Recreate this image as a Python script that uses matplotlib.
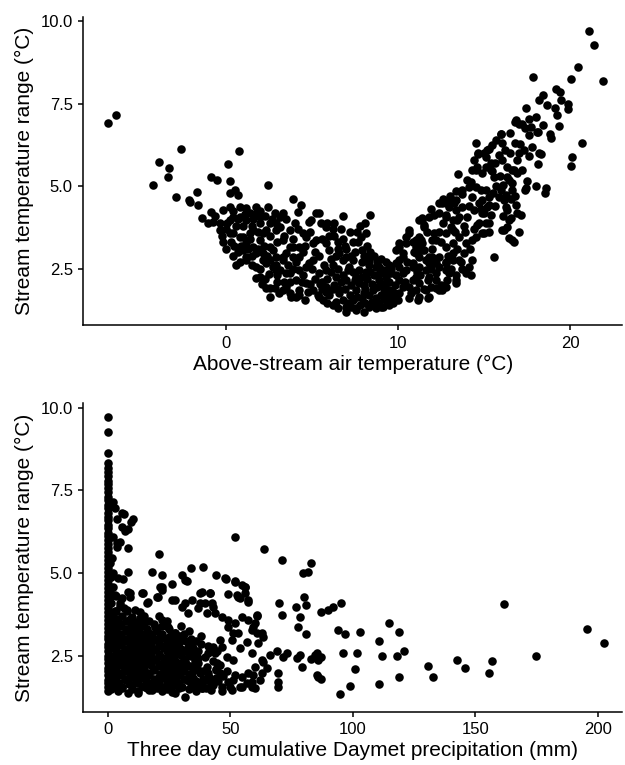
import matplotlib.pyplot as plt

plt.rcParams['font.family'] = ['Liberation Sans', 'DejaVu Sans']

## Top panel: (air temperature, stream temperature range)
air_outer = [(-6.85, 6.91), (-6.37, 7.15), (-2.6, 6.14), (-3.84, 5.73), (-3.28, 5.57),
             (-3.32, 5.29), (-4.23, 5.04), (-2.9, 4.68), (-2.14, 4.58), (-1.64, 4.82),
             (-0.83, 5.27), (-0.52, 5.19), (0.12, 5.68), (0.23, 5.16), (0.77, 6.08),
             (0.27, 4.80), (0.54, 4.90), (0.73, 4.75), (2.47, 5.04), (3.9, 4.6),
             (4.38, 4.43), (4.19, 4.23), (2.84, 4.18), (-2.08, 4.53), (-1.6, 4.43)]

air_cold = [(-1.4, 4.03), (-0.83, 4.23), (-0.74, 3.92), (-1.05, 3.88), (-0.35, 3.67),
            (-0.16, 4.28), (0.23, 4.38), (0.81, 4.38), (1.2, 4.33), (1.78, 4.38),
            (2.45, 4.38), (3.13, 4.08), (5.25, 4.18), (4.96, 3.98), (5.83, 3.77),
            (-0.35, 3.88), (0.42, 4.08), (1.2, 3.98), (1.97, 3.88), (2.36, 3.67),
            (3.13, 3.77), (3.71, 3.67), (4.48, 3.57), (5.25, 3.37), (5.83, 3.27),
            (-0.16, 3.32), (0.23, 3.57), (0.81, 3.47), (1.2, 3.27), (1.39, 3.57),
            (1.97, 3.37), (2.55, 3.17), (1.78, 2.97), (1.2, 2.86), (0.81, 2.71),
            (0.62, 2.61), (2.16, 2.76), (2.94, 2.86), (2.74, 2.56), (3.32, 2.76),
            (3.51, 2.97), (3.9, 3.17), (4.28, 2.86), (4.67, 2.56), (5.05, 2.76),
            (5.44, 2.36), (5.83, 2.46), (3.13, 2.46), (3.51, 2.36), (3.71, 2.11),
            (4.09, 2.16), (4.28, 1.85), (4.67, 2.06), (5.05, 1.85), (5.44, 1.65),
            (4.09, 1.65), (3.71, 1.75), (3.32, 1.85), (2.55, 1.91), (1.97, 2.26),
            (1.78, 2.21), (2.55, 1.65), (1.2, 2.76), (2.36, 1.91), (2.84, 1.91),
            (3.8, 1.65), (4.28, 1.70), (4.77, 1.80), (5.34, 1.70), (4.86, 3.92),
            (5.44, 4.18), (0.23, 3.98), (0.81, 4.08), (1.39, 4.18), (1.97, 4.08),
            (0.42, 3.57), (1.0, 3.47), (1.58, 3.67), (2.16, 3.57), (2.55, 3.88),
            (2.94, 3.67), (3.32, 3.37), (3.71, 3.17), (1.58, 3.17), (1.0, 3.07),
            (2.16, 2.97), (2.74, 3.07), (3.32, 2.86), (3.9, 2.86), (4.28, 3.17),
            (4.67, 3.47), (5.05, 3.27), (4.86, 2.66), (4.28, 2.46), (3.71, 2.36),
            (2.94, 2.46), (2.36, 2.66), (1.78, 2.56), (0.5, 3.2), (0.1, 3.9),
            (4.0, 3.9), (4.5, 3.0), (5.4, 2.9), (2.3, 2.2), (3.0, 2.1),
            (-0.6, 4.1), (-0.2, 3.5), (0.0, 3.1), (0.3, 3.3), (0.6, 3.8),
            (0.9, 3.2), (1.0, 3.8), (1.4, 3.4), (1.6, 4.0), (1.9, 3.6),
            (2.2, 3.2), (2.0, 4.25), (2.6, 3.5), (2.7, 4.0), (3.0, 3.3),
            (3.4, 3.5), (3.5, 4.0), (3.9, 3.4), (4.2, 3.7), (4.6, 3.2),
            (4.9, 3.6), (5.2, 3.0), (5.6, 3.4), (5.0, 2.5), (5.6, 2.1),
            (4.5, 2.3), (3.9, 2.5), (3.4, 2.1), (3.0, 2.3), (2.5, 2.35),
            (4.9, 2.05), (4.6, 1.55), (3.5, 1.95), (2.0, 2.5), (1.5, 2.9),
            (0.0, 3.7), (0.4, 4.25), (0.7, 4.0), (1.1, 4.15), (1.5, 3.8),
            (1.8, 4.2), (2.3, 4.1), (2.9, 3.9), (3.3, 4.2), (0.4, 2.9),
            (0.7, 3.0), (1.3, 3.1), (1.9, 3.1), (2.4, 2.9), (1.5, 2.6),
            (2.6, 2.75), (3.6, 2.6), (4.1, 2.7), (4.4, 2.1), (5.2, 2.2),
            (5.6, 1.9), (3.1, 1.75), (2.1, 2.05), (2.9, 2.6)]

air_mid = [(6.83, 4.1), (8.4, 4.13), (6.31, 3.88), (6.21, 3.72), (5.54, 3.88),
           (7.86, 3.47), (8.15, 3.57), (7.89, 3.07), (8.24, 2.81), (8.34, 2.61),
           (8.15, 2.41), (8.92, 2.56), (9.11, 2.46), (9.3, 2.26), (9.5, 2.11),
           (8.92, 2.16), (9.59, 2.36), (7.57, 1.25), (8.34, 1.35), (9.01, 1.35),
           (9.5, 1.4), (9.98, 1.55), (6.5, 3.32), (6.02, 3.07), (6.6, 2.97),
           (6.79, 2.76), (6.99, 2.86), (7.18, 2.56), (7.37, 2.41), (7.57, 2.26),
           (7.76, 2.46), (8.34, 2.76), (8.73, 2.56), (9.3, 2.06), (9.5, 1.85),
           (9.59, 1.55), (9.11, 1.35), (7.57, 1.3), (6.99, 1.35), (6.21, 1.4),
           (5.63, 1.55), (6.6, 1.75), (7.57, 1.85), (8.53, 1.85), (7.76, 2.06),
           (6.41, 2.26), (6.99, 2.16), (5.83, 1.95), (6.0, 1.7), (6.3, 2.0),
           (6.8, 1.55), (7.2, 1.7), (7.3, 2.0), (7.9, 1.6), (8.1, 1.9),
           (8.2, 2.2), (8.7, 1.6), (8.8, 1.95), (8.6, 2.3), (9.0, 1.7),
           (9.2, 1.9), (9.7, 1.8), (9.8, 2.0), (9.6, 2.5), (9.9, 2.3),
           (6.2, 2.6), (6.5, 2.5), (7.4, 2.75), (7.9, 2.7), (8.6, 2.9),
           (9.0, 2.8), (7.0, 3.1), (7.5, 3.0), (6.4, 1.5), (7.0, 1.2),
           (8.0, 1.2), (5.9, 2.2), (5.5, 2.05), (6.1, 2.8), (6.8, 3.4),
           (7.2, 3.6), (7.8, 3.8), (7.4, 3.3), (8.2, 3.2), (6.0, 3.5),
           (5.8, 1.8), (6.1, 2.4), (6.5, 1.9), (6.8, 2.3), (7.1, 1.45),
           (7.4, 1.55), (7.5, 2.15), (7.8, 1.4), (8.0, 2.0), (8.3, 1.7),
           (8.5, 1.5), (8.5, 2.05), (8.9, 1.45), (9.2, 1.6), (9.4, 1.7),
           (9.7, 1.45), (9.3, 2.4), (6.4, 2.9), (6.9, 3.2), (7.3, 2.9),
           (7.7, 3.3), (8.0, 2.9), (8.4, 3.0), (8.8, 2.7), (9.3, 2.7),
           (6.3, 3.5), (6.7, 3.7), (7.6, 3.6), (8.1, 3.9), (5.9, 3.9),
           (5.9, 1.45), (6.5, 1.3), (7.3, 1.35), (8.1, 1.45), (8.7, 1.3),
           (9.3, 1.55), (9.85, 1.7), (6.2, 1.9), (6.9, 1.9), (7.6, 1.65),
           (8.0, 1.75), (8.4, 2.4), (8.9, 2.35), (9.5, 2.6), (7.1, 2.45),
           (6.7, 2.1), (7.9, 2.25), (9.1, 2.05), (5.7, 2.6), (6.5, 3.1)]

air_warm = [(21.1, 9.72), (21.35, 9.3), (20.46, 8.62), (20.05, 8.26), (21.9, 8.18),
            (17.85, 8.31), (19.18, 7.94), (19.4, 7.85), (18.43, 7.78), (18.16, 7.62),
            (19.45, 7.62), (18.67, 7.46), (19.1, 7.39), (19.86, 7.51), (19.84, 7.33),
            (19.24, 7.15), (17.41, 7.39), (16.79, 6.95), (17.02, 6.89), (17.6, 7.04),
            (17.37, 6.78), (18.41, 6.85), (19.32, 6.83), (18.1, 6.64), (18.83, 6.58),
            (18.88, 6.46), (15.98, 6.58), (16.5, 6.62), (17.6, 6.55), (17.06, 6.28),
            (16.02, 6.32), (14.52, 6.30), (15.48, 6.25), (15.29, 6.13), (20.67, 6.30),
            (14.65, 5.98), (15.87, 5.94), (16.06, 5.79), (17.6, 5.92), (18.27, 5.98),
            (18.14, 5.69), (20.07, 5.89), (20.02, 5.61), (15.13, 5.88), (15.1, 5.59),
            (14.52, 5.49), (13.47, 5.38), (15.48, 5.47), (16.64, 5.49), (16.93, 5.41),
            (14.23, 5.14), (14.52, 4.98), (16.1, 5.04), (16.44, 5.19), (17.47, 5.16),
            (17.99, 5.01), (18.57, 4.94), (18.53, 4.80), (17.37, 4.88), (13.36, 4.86),
            (13.74, 4.78), (14.8, 4.88), (15.87, 4.68), (12.62, 4.6), (14.63, 6.0),
            (15.19, 6.1), (15.96, 6.6), (16.83, 7.0), (17.2, 6.9), (18.08, 6.65),
            (18.18, 6.0), (14.32, 5.49), (14.61, 5.59), (14.9, 5.39), (15.38, 5.49),
            (15.58, 5.29), (16.35, 5.29), (16.73, 5.49), (17.41, 4.94), (14.12, 4.98),
            (14.32, 4.68), (15.29, 4.68), (14.9, 4.58), (16.16, 4.58), (16.25, 4.38),
            (16.83, 4.43), (12.58, 4.48), (12.97, 4.38), (12.39, 4.18), (12.1, 4.13),
            (12.78, 4.13), (13.36, 4.28), (13.55, 4.08), (13.17, 3.98), (14.03, 4.08),
            (14.42, 4.28), (14.9, 4.18), (15.19, 4.38), (15.38, 4.13), (14.61, 3.82),
            (15.1, 3.88), (15.29, 3.88), (16.35, 3.77), (16.54, 4.03), (17.02, 3.62),
            (17.12, 4.13), (16.16, 3.67), (16.44, 3.42), (16.73, 3.32), (11.42, 3.98),
            (11.52, 3.77), (12.1, 3.57), (12.39, 3.62), (12.2, 3.37), (12.78, 3.57),
            (13.07, 3.77), (13.17, 3.27), (13.55, 3.47), (13.94, 3.27), (13.84, 2.97),
            (14.32, 3.37), (14.52, 3.47), (15.0, 3.57), (15.58, 2.86), (14.32, 2.76),
            (13.65, 2.71), (14.12, 2.56), (12.0, 2.86), (11.81, 2.66), (12.39, 2.56),
            (12.78, 2.71), (12.97, 2.36), (12.2, 2.36), (11.62, 2.46), (14.23, 2.31),
            (11.33, 3.37), (11.42, 3.07), (10.08, 1.75), (10.27, 1.95), (10.08, 2.16),
            (10.27, 2.36), (10.65, 1.6), (11.14, 1.55), (11.72, 1.6), (11.04, 1.85),
            (11.62, 1.85), (10.65, 1.95), (10.85, 2.16), (11.23, 2.06), (11.91, 1.95),
            (12.2, 1.91), (12.58, 1.85), (11.04, 2.26), (11.72, 2.16), (12.2, 2.16),
            (12.87, 2.16), (13.36, 2.06), (10.08, 2.56), (10.08, 2.76), (10.27, 2.97),
            (10.08, 3.17), (10.46, 3.27), (10.65, 3.57), (10.85, 2.66), (11.23, 2.56),
            (11.62, 2.76), (11.04, 2.97), (11.52, 3.07), (11.81, 2.86), (10.85, 3.32),
            (11.04, 3.17), (11.42, 3.27), (11.23, 3.47), (12.2, 2.66), (12.39, 2.86),
            (12.78, 2.66), (13.17, 2.76), (12.78, 2.46), (13.36, 2.31), (11.42, 4.03),
            (11.52, 3.82), (12.97, 4.58), (13.26, 4.48), (12.78, 4.08), (13.45, 3.98),
            (14.9, 3.57), (14.71, 3.88), (15.0, 4.18), (15.29, 4.43), (16.25, 4.73),
            (16.54, 4.63), (16.64, 4.88), (16.35, 4.28), (16.93, 4.18), (16.64, 3.37),
            (16.06, 3.67), (16.44, 3.98), (9.88, 3.07), (10.08, 3.27), (10.46, 3.47),
            (10.65, 3.67), (11.04, 3.37), (10.27, 2.86), (9.88, 2.66), (10.85, 2.56),
            (11.23, 2.86), (11.23, 3.98), (11.81, 4.08), (12.39, 4.48), (12.78, 4.48),
            (13.36, 4.58), (13.74, 4.38), (13.17, 3.67), (12.0, 3.37), (12.78, 3.17),
            (13.17, 2.97), (13.55, 2.76), (11.81, 2.26), (10.46, 2.46), (10.75, 1.75),
            (11.23, 1.65), (11.81, 1.65), (12.39, 1.85), (12.78, 1.95), (13.36, 2.16),
            (13.94, 2.36), (10.4, 2.1), (10.5, 2.7), (10.9, 3.0), (11.3, 2.3),
            (11.5, 1.9), (11.9, 2.5), (12.0, 3.1), (12.5, 2.0), (12.5, 3.3),
            (12.9, 2.9), (13.1, 2.5), (13.4, 3.1), (13.7, 2.5), (13.3, 3.6),
            (13.9, 3.6), (14.2, 3.1), (14.4, 3.7), (14.7, 4.5), (15.1, 4.9),
            (15.6, 4.4), (15.7, 5.0), (15.9, 5.3), (16.3, 5.6), (16.6, 5.1),
            (16.9, 5.8), (17.2, 5.5), (17.8, 6.2), (17.0, 6.0), (16.5, 6.0),
            (15.6, 5.7), (16.0, 4.9), (16.8, 4.7), (13.0, 4.7), (13.7, 4.9),
            (14.0, 5.2), (14.4, 5.8), (15.0, 6.0), (15.4, 5.7), (15.7, 6.4),
            (16.2, 6.1), (16.8, 6.3), (17.3, 6.1), (17.7, 6.8), (18.0, 7.1),
            (14.1, 4.4), (14.8, 4.3), (15.5, 4.8), (16.1, 4.1), (13.8, 3.8),
            (15.3, 3.6), (11.1, 2.4), (11.7, 3.6), (12.6, 3.9), (11.9, 4.3)]

## Bottom panel: (three day precipitation, stream temperature range)
zero_precip_range = [9.72, 9.27, 8.62, 8.32, 8.18, 8.05, 7.93, 7.8, 7.69, 7.56,
                     7.44, 7.31, 7.2, 7.07, 6.96, 6.83, 6.71, 6.6, 6.47, 6.36,
                     6.23, 6.12, 5.99, 5.88, 5.75, 5.64, 5.52, 5.39, 5.28, 5.16,
                     5.03, 4.92, 4.8, 4.67, 4.56, 4.44, 4.31, 4.2, 4.08, 3.95,
                     3.84, 3.72, 3.59, 3.48, 3.36, 3.23, 3.12, 3.0, 2.87, 2.76,
                     2.64, 2.51, 2.4, 2.28, 2.15, 2.04, 1.92, 1.79, 1.68, 1.56, 1.45]

precip_core = [(1.0, 5.3), (1.2, 4.9), (0.8, 4.5), (1.5, 4.1), (1.1, 3.7), (0.9, 3.3),
               (1.3, 2.9), (0.8, 2.5), (1.2, 2.1), (0.9, 1.7), (1.4, 1.5), (2.3, 4.6),
               (3.5, 4.3), (3.0, 3.85), (5.0, 4.0), (2.0, 5.0), (1.8, 5.45),
               (1.5, 1.6), (1.6, 2.0), (1.5, 2.4), (1.6, 2.8), (1.5, 3.2), (1.6, 3.6), (1.5, 4.3),
               (4.0, 1.45), (8.4, 1.37), (12.5, 1.45), (17.0, 1.47), (22.0, 1.43), (27.5, 1.37),
               (31.6, 1.27), (36.0, 1.45), (42.0, 1.48), (46.5, 1.45),
               (2.5, 1.6), (6.0, 1.58), (10.0, 1.62), (14.0, 1.6), (18.0, 1.62), (22.0, 1.57),
               (26.1, 1.6), (30.2, 1.57), (34.3, 1.6), (38.4, 1.55), (43.0, 1.62),
               (3.5, 1.75), (7.5, 1.77), (11.5, 1.74), (15.5, 1.76), (19.5, 1.75), (24.0, 1.72),
               (28.0, 1.76), (32.2, 1.77), (36.0, 1.74), (40.0, 1.78), (45.0, 1.75), (49.0, 1.73),
               (2.0, 1.9), (5.5, 1.92), (9.0, 1.88), (13.0, 1.9), (17.0, 1.92), (21.0, 1.88),
               (25.0, 1.9), (29.0, 1.92), (33.0, 1.9), (41.5, 1.88), (47.0, 1.9), (52.0, 1.92),
               (3.5, 2.05), (7.0, 2.06), (11.0, 2.03), (15.0, 2.05), (19.0, 2.07), (23.0, 2.04),
               (27.0, 2.05), (31.0, 2.06), (35.0, 2.04), (39.0, 2.05), (44.0, 2.07), (48.5, 2.05),
               (2.0, 2.2), (5.5, 2.22), (9.5, 2.18), (13.5, 2.2), (17.5, 2.22), (21.5, 2.19),
               (25.5, 2.2), (29.5, 2.21), (33.5, 2.2), (45.8, 2.22),
               (3.5, 2.35), (7.5, 2.36), (11.5, 2.33), (15.5, 2.35), (19.5, 2.37), (23.5, 2.34),
               (27.5, 2.35), (31.5, 2.36), (35.5, 2.34), (43.0, 2.35),
               (2.0, 2.5), (5.5, 2.52), (9.5, 2.48), (13.5, 2.5), (17.5, 2.51), (21.5, 2.49),
               (26.0, 2.5), (30.0, 2.52), (34.0, 2.49),
               (3.5, 2.65), (7.5, 2.66), (11.5, 2.63), (15.5, 2.65), (19.5, 2.67), (24.0, 2.64),
               (28.0, 2.65), (32.0, 2.66), (37.0, 2.64), (44.5, 2.66),
               (2.0, 2.8), (5.5, 2.82), (9.5, 2.78), (13.5, 2.8), (17.5, 2.81), (22.0, 2.79),
               (26.0, 2.8), (34.0, 2.82), (41.0, 2.8),
               (3.5, 2.95), (7.5, 2.96), (11.5, 2.93), (15.5, 2.95), (19.5, 2.97), (24.0, 2.94),
               (28.0, 2.95), (32.0, 2.96), (36.0, 2.94),
               (2.0, 3.1), (5.5, 3.12), (9.5, 3.08), (13.5, 3.1), (17.5, 3.11), (21.5, 3.09),
               (25.5, 3.1), (29.5, 3.12), (38.0, 3.1),
               (3.5, 3.25), (7.5, 3.26), (11.5, 3.23), (16.0, 3.25), (20.0, 3.27), (27.5, 3.19),
               (33.0, 3.25),
               (2.0, 3.4), (5.5, 3.42), (9.5, 3.38), (13.5, 3.4), (22.0, 3.42), (30.0, 3.4),
               (3.5, 3.55), (7.5, 3.56), (12.0, 3.53), (17.0, 3.55), (24.0, 3.57),
               (2.0, 3.7), (6.0, 3.72), (10.0, 3.68), (15.0, 3.7), (21.0, 3.71),
               (3.5, 3.85), (8.0, 3.87), (13.0, 3.84)]

precip_fill = [(6.0, 1.52), (10.0, 1.5), (16.0, 1.53), (20.0, 1.52), (24.0, 1.5), (29.0, 1.52),
               (33.0, 1.5), (40.0, 1.52),
               (4.5, 1.68), (8.5, 1.67), (12.0, 1.69), (16.5, 1.68), (21.0, 1.66), (25.0, 1.68),
               (29.0, 1.69), (34.0, 1.67), (38.0, 1.68), (42.0, 1.66),
               (3.0, 1.83), (7.0, 1.82), (11.0, 1.84), (15.0, 1.83), (19.0, 1.81), (23.0, 1.83),
               (27.0, 1.84), (31.0, 1.82), (35.0, 1.83), (39.0, 1.81), (44.0, 1.83),
               (5.0, 1.98), (9.0, 1.97), (13.0, 1.99), (17.0, 1.98), (21.5, 1.96), (25.5, 1.98),
               (29.5, 1.99), (33.5, 1.97), (41.0, 1.98),
               (2.5, 2.13), (7.0, 2.12), (11.0, 2.14), (15.0, 2.13), (19.0, 2.11), (23.0, 2.13),
               (27.0, 2.14), (31.0, 2.12), (36.5, 2.13), (44.0, 2.11),
               (5.0, 2.28), (9.0, 2.27), (13.0, 2.29), (17.0, 2.28), (21.0, 2.26), (25.0, 2.28),
               (29.0, 2.29), (32.0, 2.27), (37.0, 2.28),
               (2.5, 2.43), (7.0, 2.42), (11.0, 2.44), (15.0, 2.43), (19.0, 2.41), (23.0, 2.43),
               (27.0, 2.44), (31.0, 2.42), (37.0, 2.43),
               (5.0, 2.58), (9.0, 2.57), (13.0, 2.59), (17.0, 2.58), (21.0, 2.56), (25.0, 2.58),
               (29.0, 2.59), (33.0, 2.57), (41.0, 2.58),
               (2.5, 2.73), (7.0, 2.72), (11.0, 2.74), (15.0, 2.73), (19.0, 2.71), (23.0, 2.73),
               (27.0, 2.74), (30.0, 2.72), (35.0, 2.73),
               (5.0, 2.88), (9.0, 2.87), (13.0, 2.89), (17.0, 2.88), (21.0, 2.86), (25.0, 2.88),
               (29.0, 2.89), (38.0, 2.87),
               (2.5, 3.03), (7.0, 3.02), (11.0, 3.04), (15.0, 3.03), (19.0, 3.01), (23.0, 3.03),
               (27.0, 3.04), (34.0, 3.02),
               (5.0, 3.18), (9.0, 3.17), (13.0, 3.19), (18.0, 3.18), (22.0, 3.16), (31.0, 3.18),
               (3.0, 3.33), (7.5, 3.32), (11.5, 3.34), (16.0, 3.33), (25.0, 3.31),
               (5.0, 3.48), (9.5, 3.47), (15.0, 3.49), (19.0, 3.48),
               (4.0, 3.63), (9.0, 3.62), (13.0, 3.64), (6.5, 3.95), (11.0, 3.9)]

precip_spread = [(2.29, 7.16), (2.98, 6.96), (5.7, 6.83), (6.65, 6.79), (3.92, 6.63),
                 (10.2, 6.63), (9.39, 6.56), (5.96, 6.41), (7.06, 6.28), (8.16, 6.33),
                 (2.29, 6.1), (3.92, 5.9), (5.02, 5.95), (8.16, 5.75), (3.67, 5.8),
                 (21.06, 5.58), (52.08, 6.1), (63.9, 5.73), (71.0, 5.4), (83.0, 5.3),
                 (79.8, 5.0), (81.9, 5.05), (8.16, 5.05), (4.33, 4.85), (6.37, 4.82),
                 (18.2, 5.05), (22.3, 4.95), (30.2, 4.95), (32.2, 4.78), (34.0, 5.17),
                 (39.0, 5.2), (44.2, 4.95), (48.2, 4.83), (52.1, 4.77), (56.0, 4.6),
                 (26.1, 4.68), (22.3, 4.58), (31.6, 4.8), (47.9, 4.85), (54.7, 4.64),
                 (56.0, 4.39), (53.3, 4.29), (57.4, 4.19), (13.9, 4.39), (16.6, 4.14),
                 (8.4, 4.44), (9.1, 4.29), (5.7, 4.24), (3.0, 4.34), (22.0, 4.49),
                 (20.7, 4.29), (27.5, 4.19), (31.6, 4.09), (34.3, 4.19), (38.4, 4.44),
                 (41.8, 4.41), (39.7, 4.09), (37.0, 3.94), (32.9, 3.79), (42.4, 4.09),
                 (43.8, 3.79), (46.5, 3.69), (49.2, 3.59), (52.0, 3.49), (54.7, 3.69),
                 (57.4, 3.59), (60.1, 3.49), (60.8, 3.71), (58.8, 3.29), (62.9, 3.19),
                 (63.5, 3.08), (61.5, 2.88), (58.8, 2.58), (62.9, 2.38), (60.1, 2.18),
                 (57.4, 1.98), (54.7, 1.87), (58.8, 1.72), (62.9, 1.98), (53.3, 3.19),
                 (50.6, 2.98), (46.5, 2.78), (43.8, 2.58), (39.7, 2.48), (35.6, 2.58),
                 (32.9, 2.78), (30.2, 2.98), (27.5, 3.19), (24.7, 3.39), (22.0, 3.59),
                 (19.3, 3.39), (16.6, 3.19), (13.9, 2.98), (11.1, 2.78), (8.4, 2.58),
                 (5.7, 2.38), (7.06, 2.18), (9.8, 1.98), (12.5, 1.77), (15.2, 1.57),
                 (18.0, 1.47), (26.1, 1.68), (38.4, 1.52), (42.4, 1.68), (46.5, 1.57),
                 (50.6, 1.47), (54.7, 1.57), (58.8, 1.57), (26.1, 1.42), (12.5, 1.37),
                 (37.7, 4.39), (41.8, 4.39), (49.2, 4.37), (52.7, 4.34), (56.0, 4.59),
                 (52.0, 4.74), (57.4, 4.14), (54.0, 4.24), (26.1, 4.19), (30.2, 3.99),
                 (37.7, 4.09), (40.4, 3.79), (43.1, 3.99), (15.9, 4.09), (20.0, 4.29),
                 (21.3, 4.59), (14.5, 4.39), (9.1, 4.39), (5.0, 4.09), (7.8, 3.89),
                 (69.9, 4.09), (71.0, 3.74), (76.9, 3.99), (80.1, 4.27), (80.9, 4.04),
                 (78.5, 3.69), (77.6, 3.37), (80.9, 3.17), (60.8, 3.74), (59.4, 3.39),
                 (60.8, 3.19), (56.7, 2.93), (54.0, 2.73), (63.5, 2.33), (66.2, 2.53),
                 (69.0, 2.66), (71.7, 2.48), (73.1, 2.58), (69.6, 1.98), (69.6, 1.72),
                 (69.6, 1.57), (78.5, 2.53), (77.1, 2.43), (79.2, 2.18), (84.6, 2.53),
                 (86.0, 2.38), (85.3, 1.93), (59.4, 1.93), (60.1, 1.52), (64.9, 2.13),
                 (62.2, 1.77), (161.8, 4.07), (195.5, 3.31), (202.6, 2.9), (174.7, 2.49),
                 (156.7, 2.36), (155.6, 2.0), (142.7, 2.38), (145.6, 2.13), (130.6, 2.2),
                 (132.7, 1.87), (114.7, 3.49), (118.8, 3.23), (110.7, 2.95), (111.8, 2.5),
                 (118.0, 2.5), (120.9, 2.65), (118.8, 1.86), (110.7, 1.65), (101.9, 2.58),
                 (100.9, 2.11), (102.9, 3.23), (99.0, 1.59), (94.9, 1.34), (95.9, 2.59),
                 (96.9, 3.16), (93.9, 3.29), (95.1, 4.11), (91.8, 3.97), (90.0, 3.89),
                 (86.9, 3.84), (83.0, 2.41), (85.3, 2.6), (86.9, 2.48), (86.0, 1.87),
                 (87.1, 1.80), (49.2, 3.39), (51.3, 3.19), (45.8, 2.98), (43.1, 2.78),
                 (48.6, 2.48), (51.3, 2.38), (44.5, 2.28), (45.8, 1.98), (51.3, 1.77),
                 (54.0, 1.57), (56.7, 1.68), (49.9, 1.57), (43.1, 1.77), (39.0, 1.57),
                 (37.7, 1.98), (40.4, 2.18), (34.9, 2.18), (32.2, 1.77), (36.3, 1.57)]


def style_axes(ax):
    for side in ['top', 'right']:
        ax.spines[side].set_visible(False)
    for side in ['left', 'bottom']:
        ax.spines[side].set_linewidth(1.1)
        ax.spines[side].set_color('black')
    ax.tick_params(direction='out', length=3.6, width=1.1, labelsize=12,
                   colors='black', pad=4)


fig = plt.figure(figsize=(6.25, 7.65), dpi=100)

# top scatter
top_pts = air_outer + air_cold + air_mid + air_warm
tx, ty = zip(*top_pts)
ax1 = fig.add_axes([0.1333, 0.575, 0.862, 0.403])
ax1.scatter(tx, ty, s=38, color='black', linewidths=0)
ax1.set_xlim(-8.26, 23.0)
ax1.set_ylim(0.79, 10.14)
ax1.set_xticks([0, 10, 20])
ax1.set_yticks([2.5, 5.0, 7.5, 10.0])
ax1.set_yticklabels(['2.5', '5.0', '7.5', '10.0'])
ax1.set_xlabel('Above-stream air temperature (°C)', fontsize=15, labelpad=3)
ax1.set_ylabel('Stream temperature range (°C)', fontsize=15, labelpad=5)
style_axes(ax1)

# bottom scatter
others = precip_core + precip_fill + precip_spread
bx = [0.0] * len(zero_precip_range) + [p[0] for p in others]
by = list(zero_precip_range) + [p[1] for p in others]
ax2 = fig.add_axes([0.1333, 0.0697, 0.862, 0.403])
ax2.scatter(bx, by, s=38, color='black', linewidths=0)
ax2.set_xlim(-9.96, 209.9)
ax2.set_ylim(0.82, 10.13)
ax2.set_xticks([0, 50, 100, 150, 200])
ax2.set_yticks([2.5, 5.0, 7.5, 10.0])
ax2.set_yticklabels(['2.5', '5.0', '7.5', '10.0'])
ax2.set_xlabel('Three day cumulative Daymet precipitation (mm)', fontsize=15, labelpad=3)
ax2.set_ylabel('Stream temperature range (°C)', fontsize=15, labelpad=5)
style_axes(ax2)

fig.savefig('out.png', dpi=100)
